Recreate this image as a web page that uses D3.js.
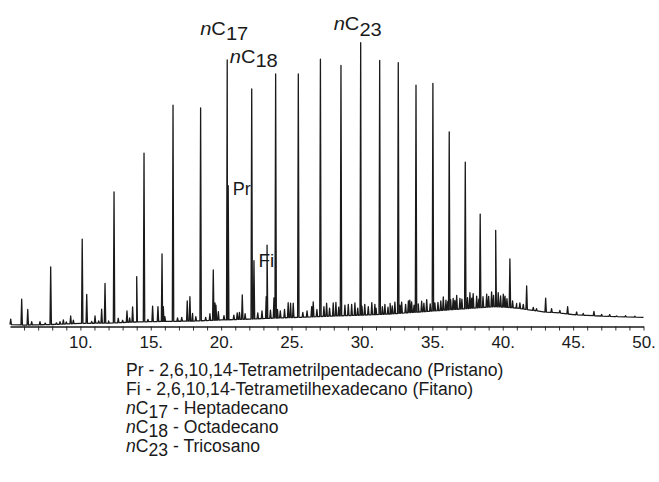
<!DOCTYPE html>
<html>
<head>
<meta charset="utf-8">
<script src="https://cdn.jsdelivr.net/npm/d3@7"></script>
<style>
  body { margin: 0; background: #fff; }
  svg { display: block; }
  text { font-family: Arial, "Liberation Sans", Helvetica, sans-serif; fill: #1a1a1a; }
</style>
</head>
<body>
<svg id="chart" width="659" height="482"></svg>
<script>
// retention time (min) and relative abundance (nC23 = 100)
var alkaneNames   = ["C10","C11","C12","C13","C14","C15","C16","C17","C18","C19","C20","C21","C22","C23","C24","C25","C26","C27","C28","C29","C30","C31","C32","C33","C34","C35"];
var alkaneTimes   = [5.83, 7.89, 10.13, 12.39, 14.52, 16.58, 18.54, 20.43, 22.17, 23.87, 25.48, 27.05, 28.51, 29.91, 31.26, 32.58, 33.84, 35.04, 36.20, 37.34, 38.40, 39.50, 40.51, 41.70, 43.05, 44.61];
var alkaneHeights = [9.6, 21.0, 30.8, 47.4, 61.1, 78.0, 77.0, 93.9, 83.7, 89.0, 89.0, 94.2, 92.0, 100, 93.8, 93.0, 85.0, 85.7, 68.6, 57.9, 39.6, 33.9, 23.8, 14.3, 10.0, 7.0];

var isoNames   = ["Pr", "Fi"];
var isoTimes   = [20.50, 22.33];
var isoHeights = [49.6, 23.2];

// smaller peaks (t, abundance)
var minorPeaks = [
  [5.05,2.6],[6.26,6.0],[6.54,1.7],[7.13,1.7],[7.5,1.2],[8.3,1.3],[8.55,1.7],[8.79,2.3],[9.0,1.6],[9.31,3.7],[9.5,2.2],
  [10.45,11.3],[10.8,1.8],[11.04,3.7],[11.3,2.0],[11.51,6.1],[11.75,15.2],[12.0,2.0],[12.69,2.9],[13.0,2.2],[13.31,5.5],[13.5,3.0],[13.71,6.9],
  [14.0,17.6],[14.8,2.5],[15.13,7.2],[15.51,7.0],[15.80,25.6],[15.89,7.0],[16.0,3.5],[16.9,3.0],
  [17.2,3.2],[17.59,9.0],[17.78,10.5],[17.97,4.6],[18.2,3.5],[18.9,3.2],[19.2,4.5],
  [19.44,19.9],[19.56,8.3],[19.63,7.5],[19.8,5.2],[20.2,3.8],[20.9,4.0],[21.14,4.8],
  [21.3,5.0],[21.50,11.1],[21.7,4.5],[22.6,4.8],[22.9,5.5],[23.2,10.5],[23.26,28.7],
  [23.5,5.8],[23.75,10.1],[24.0,6.0],[24.2,5.5],[24.5,6.0],[24.76,8.4],[24.93,8.2],
  [25.12,8.2],[25.8,5.0],[26.1,5.5],[26.43,7.0],[26.54,8.7],[26.8,6.0],[27.3,7.0],
  [27.49,8.2],[27.7,6.5],[27.96,8.3],[28.15,8.5],[28.35,6.8],[28.79,7.5],[29.03,7.8],
  [29.27,7.8],[29.5,8.3],[29.7,6.5],[30.0,7.2],[30.2,7.8],[30.45,7.0],[30.7,8.4],
  [30.92,7.8],[31.0,6.5],[31.45,7.0],[31.63,7.8],[31.85,6.8],[32.0,8.1],[32.15,7.3],
  [32.34,8.6],[32.7,7.5],[32.82,8.6],[33.1,7.8],[33.3,9.0],[33.4,9.3],[33.53,8.7],
  [33.7,7.5],[34.0,8.0],[34.24,8.9],[34.4,8.2],[34.6,9.5],[34.85,8.0],[35.18,8.3],
  [35.4,8.5],[35.6,9.0],[35.78,10.4],[35.97,9.3],[36.1,8.8],[36.3,9.5],[36.48,9.9],
  [36.6,9.2],[36.73,11.0],[36.96,9.9],[37.1,9.6],[37.5,10.2],[37.67,11.9],[37.8,10.0],
  [37.9,11.6],[38.15,10.7],[38.3,9.6],[38.6,10.5],[38.86,11.4],[39.0,10.6],[39.21,12.2],
  [39.35,11.0],[39.68,11.9],[39.85,10.8],[40.04,11.4],[40.16,10.7],[40.3,9.8],[40.7,9.0],
  [40.99,8.1],[41.22,8.3],[41.46,7.8],[42.17,6.7],[42.4,6.3],[43.47,6.3],[44.06,5.7],
  [45.25,5.1],[45.72,4.6],[46.48,5.3],[47.02,4.3],[47.6,4.2],[48.09,3.7],[48.73,3.8],[49.39,3.6]
];

// baseline (unresolved hump) under the peaks
var baseTimes  = [5, 6, 8, 10, 12, 14, 16, 18, 20, 22, 24, 26, 28, 30, 32, 34, 36, 38, 39.5, 41, 42, 43, 44, 45, 46, 47, 48, 50];
var baseLevels = [0.7, 0.5, 0.7, 1.1, 1.2, 1.6, 1.8, 1.9, 2.3, 2.6, 3.0, 3.3, 3.7, 4.0, 4.4, 5.1, 5.8, 6.5, 7.0, 6.5, 5.8, 5.1, 4.8, 4.2, 3.9, 3.7, 3.5, 3.2];

var tickValues = d3.range(6, 51);
var labelTicks = [10, 15, 20, 25, 30, 35, 40, 45, 50];

var legendLines = [
  {pre: "Pr", text: " - 2,6,10,14-Tetrametrilpentadecano (Pristano)"},
  {pre: "Fi", text: " - 2,6,10,14-Tetrametilhexadecano (Fitano)"},
  {sub: "17", text: " - Heptadecano"},
  {sub: "18", text: " - Octadecano"},
  {sub: "23", text: " - Tricosano"}
];

var svg = d3.select("#chart");
var x = d3.scaleLinear().domain([5, 50]).range([10, 643.5]);
var y = d3.scaleLinear().domain([0, 100]).range([326.5, 42.7]);
var base = d3.scaleLinear().domain(baseTimes).range(baseLevels);

// collect every peak, then build the trace along the baseline
var peaks = [];
alkaneTimes.forEach(function (t, i) { peaks.push([t, alkaneHeights[i]]); });
isoTimes.forEach(function (t, i) { peaks.push([t, isoHeights[i]]); });
minorPeaks.forEach(function (p) { peaks.push(p); });

var hw = 0.05; // half width of a peak foot in minutes
var pts = baseTimes.map(function (t, i) { return [t, baseLevels[i]]; });
peaks.forEach(function (p) {
    pts.push([p[0] - hw, base(p[0] - hw)]);
    pts.push([p[0], p[1]]);
    pts.push([p[0] + hw, base(p[0] + hw)]);
});
pts.sort(function (a, b) { return a[0] - b[0]; });
pts = pts.filter(function (p) { return p[0] >= 5 && p[0] <= 50; });

var line = d3.line()
    .x(function (d) { return x(d[0]); })
    .y(function (d) { return y(d[1]); });

svg.append("path")
    .datum(pts)
    .attr("d", line)
    .attr("fill", "none")
    .attr("stroke", "#1a1a1a")
    .attr("stroke-width", 1.3)
    .attr("stroke-linejoin", "round");

// time axis
var axis = d3.axisBottom(x)
    .tickValues(tickValues)
    .tickSize(4)
    .tickSizeOuter(0)
    .tickFormat(function (d) { return labelTicks.indexOf(d) > -1 ? d + "." : ""; });

var gx = svg.append("g")
    .attr("transform", "translate(0," + y(0) + ")")
    .call(axis);
gx.select(".domain").attr("stroke", "#1a1a1a").attr("stroke-width", 1.4);
gx.selectAll(".tick line").attr("stroke", "#1a1a1a").attr("stroke-width", 0.9);
gx.selectAll(".tick text")
    .attr("y", 21.5)
    .attr("dy", 0)
    .style("font-size", "17px")
    .style("font-family", "Arial, 'Liberation Sans', Helvetica, sans-serif")
    .attr("fill", "#1a1a1a");

// peak labels (the original lettering is a little wide)
function nLabel(g, sub, px, py, anchor, sdy) {
    var t = g.append("text")
        .attr("transform", "translate(" + px + "," + py + ") scale(1.15,1)")
        .attr("text-anchor", anchor)
        .style("font-size", "17.5px");
    t.append("tspan").style("font-style", "italic").text("n");
    t.append("tspan").text("C");
    t.append("tspan").attr("dy", sdy).text(sub);
    return t;
}
var labels = svg.append("g");
nLabel(labels, "17", x(alkaneTimes[7]) - 3, 34.5, "middle", 5);
nLabel(labels, "18", x(alkaneTimes[7]) + 2.5, 63, "start", 4);
nLabel(labels, "23", x(alkaneTimes[13]) - 27, 30, "start", 5.5);

var isoDy = [9.5, 6];
var isoSize = [18, 19];
labels.selectAll(".iso").data(isoNames).enter().append("text")
    .attr("class", "iso")
    .attr("x", function (d, i) { return x(isoTimes[i]) + 4.5; })
    .attr("y", function (d, i) { return y(isoHeights[i]) + isoDy[i]; })
    .style("font-size", function (d, i) { return isoSize[i] + "px"; })
    .text(function (d) { return d; });

// legend
var legend = svg.append("g");
legendLines.forEach(function (l, i) {
    var t = legend.append("text")
        .attr("x", 126)
        .attr("y", 376 + i * 19)
        .style("font-size", "17.6px");
    if (l.pre) {
        t.append("tspan").text(l.pre + l.text);
    } else {
        t.append("tspan").style("font-style", "italic").text("n");
        t.append("tspan").text("C");
        t.append("tspan").attr("dy", 4).text(l.sub);
        t.append("tspan").attr("dy", -4).text(l.text);
    }
});
</script>
</body>
</html>
